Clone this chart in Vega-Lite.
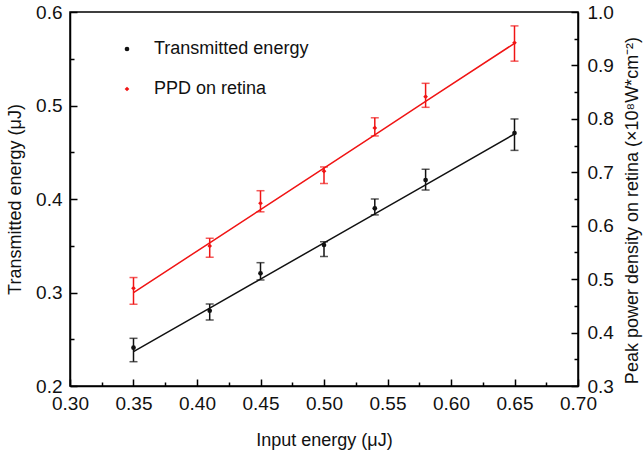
{
  "$schema": "https://vega.github.io/schema/vega-lite/v6.json",
  "width": 508,
  "height": 374,
  "autosize": {"type": "none"},
  "padding": {"left": 70, "top": 12, "right": 66, "bottom": 66},
  "background": "white",
  "config": {
    "font": "Liberation Sans",
    "view": {"stroke": "#000", "strokeWidth": 1.5},
    "axis": {
      "domainColor": "#000", "domainWidth": 1.5,
      "tickColor": "#000", "tickWidth": 1.5,
      "labelColor": "#111", "titleColor": "#111",
      "labelFontSize": 19, "titleFontSize": 18, "titleFontWeight": "normal",
      "grid": false
    },
    "legend": {
      "orient": "none", "legendX": 48, "legendY": 28,
      "labelFontSize": 18, "labelColor": "#111",
      "symbolSize": 22, "rowPadding": 22, "labelOffset": 18,
      "title": null
    }
  },
  "data": {"values": [
    {"x": 0.35, "te": 0.241, "te_lo": 0.226, "te_hi": 0.251, "te_fit": 0.2367, "ppd": 0.483, "ppd_lo": 0.453, "ppd_hi": 0.503, "ppd_fit": 0.4746},
    {"x": 0.41, "te": 0.2805, "te_lo": 0.2706, "te_hi": 0.2877, "te_fit": 0.2833, "ppd": 0.562, "ppd_lo": 0.541, "ppd_hi": 0.5765, "ppd_fit": 0.568},
    {"x": 0.45, "te": 0.3205, "te_lo": 0.3134, "te_hi": 0.3319, "te_fit": 0.3143, "ppd": 0.642, "ppd_lo": 0.626, "ppd_hi": 0.6655, "ppd_fit": 0.6302},
    {"x": 0.50, "te": 0.3508, "te_lo": 0.3385, "te_hi": 0.3543, "te_fit": 0.3531, "ppd": 0.702, "ppd_lo": 0.679, "ppd_hi": 0.710, "ppd_fit": 0.708},
    {"x": 0.54, "te": 0.390, "te_lo": 0.383, "te_hi": 0.400, "te_fit": 0.3841, "ppd": 0.783, "ppd_lo": 0.768, "ppd_hi": 0.802, "ppd_fit": 0.7702},
    {"x": 0.58, "te": 0.4203, "te_lo": 0.4096, "te_hi": 0.4318, "te_fit": 0.4152, "ppd": 0.8415, "ppd_lo": 0.8216, "ppd_hi": 0.8665, "ppd_fit": 0.8325},
    {"x": 0.65, "te": 0.4706, "te_lo": 0.452, "te_hi": 0.4856, "te_fit": 0.4695, "ppd": 0.9425, "ppd_lo": 0.908, "ppd_hi": 0.974, "ppd_fit": 0.9414}
  ]},
  "encoding": {
    "x": {
      "field": "x", "type": "quantitative",
      "scale": {"domain": [0.3, 0.7], "nice": false, "zero": false},
      "axis": {
        "title": "Input energy (μJ)",
        "values": [0.3, 0.325, 0.35, 0.375, 0.4, 0.425, 0.45, 0.475, 0.5, 0.525, 0.55, 0.575, 0.6, 0.625, 0.65, 0.675, 0.7],
        "labelExpr": "round(datum.value*1000) % 50 === 0 ? format(datum.value, '.2f') : ''",
        "tickSize": {"condition": {"test": "round(datum.value*1000) % 50 === 0", "value": -7}, "value": -4},
        "labelPadding": 15, "titlePadding": 15, "labelFlush": false, "labelOverlap": false
      }
    }
  },
  "layer": [
    {
      "encoding": {
        "y": {"type": "quantitative",
          "scale": {"domain": [0.2, 0.6], "nice": false, "zero": false},
          "axis": {
            "title": "Transmitted energy (μJ)", "orient": "left",
            "values": [0.2, 0.25, 0.3, 0.35, 0.4, 0.45, 0.5, 0.55, 0.6],
            "labelExpr": "round(datum.value*100) % 10 === 0 ? format(datum.value, '.1f') : ''",
            "tickSize": {"condition": {"test": "round(datum.value*100) % 10 === 0", "value": -7}, "value": -4},
            "labelPadding": 15, "titlePadding": 11, "labelFlush": false, "labelOverlap": false
          }
        }
      },
      "layer": [
        {"mark": {"type": "line", "color": "#111", "strokeWidth": 1.5}, "encoding": {"y": {"field": "te_fit"}}},
        {"mark": {"type": "rule", "color": "#111", "strokeWidth": 1.5}, "encoding": {"y": {"field": "te_lo"}, "y2": {"field": "te_hi"}}},
        {"mark": {"type": "tick", "orient": "horizontal", "color": "#111", "size": 8, "thickness": 1.5}, "encoding": {"y": {"field": "te_lo"}}},
        {"mark": {"type": "tick", "orient": "horizontal", "color": "#111", "size": 8, "thickness": 1.5}, "encoding": {"y": {"field": "te_hi"}}},
        {"mark": {"type": "point", "filled": true, "opacity": 1, "size": 22}, "encoding": {
          "y": {"field": "te"},
          "color": {"datum": "Transmitted energy", "type": "nominal", "scale": {"domain": ["Transmitted energy", "PPD on retina"], "range": ["#111111", "#f01414"]}},
          "shape": {"datum": "Transmitted energy", "type": "nominal", "scale": {"domain": ["Transmitted energy", "PPD on retina"], "range": ["circle", "diamond"]}}
        }}
      ]
    },
    {
      "encoding": {
        "y": {"type": "quantitative",
          "scale": {"domain": [0.3, 1.0], "nice": false, "zero": false},
          "axis": {
            "title": "Peak power density on retina (×10⁸W*cm⁻²)", "orient": "right",
            "titleAngle": 270, "titleBaseline": "top", "titleY": 198,
            "values": [0.3, 0.35, 0.4, 0.45, 0.5, 0.55, 0.6, 0.65, 0.7, 0.75, 0.8, 0.85, 0.9, 0.95, 1.0],
            "labelExpr": "round(datum.value*100) % 10 === 0 ? format(datum.value, '.1f') : ''",
            "tickSize": {"condition": {"test": "round(datum.value*100) % 10 === 0", "value": -7}, "value": -4},
            "labelPadding": 16, "titlePadding": 10, "labelFlush": false, "labelOverlap": false
          }
        }
      },
      "layer": [
        {"mark": {"type": "line", "color": "#f01414", "strokeWidth": 1.5}, "encoding": {"y": {"field": "ppd_fit"}}},
        {"mark": {"type": "rule", "color": "#f01414", "strokeWidth": 1.5}, "encoding": {"y": {"field": "ppd_lo"}, "y2": {"field": "ppd_hi"}}},
        {"mark": {"type": "tick", "orient": "horizontal", "color": "#f01414", "size": 8, "thickness": 1.5}, "encoding": {"y": {"field": "ppd_lo"}}},
        {"mark": {"type": "tick", "orient": "horizontal", "color": "#f01414", "size": 8, "thickness": 1.5}, "encoding": {"y": {"field": "ppd_hi"}}},
        {"mark": {"type": "point", "filled": true, "opacity": 1, "size": 22}, "encoding": {
          "y": {"field": "ppd"},
          "color": {"datum": "PPD on retina", "type": "nominal"},
          "shape": {"datum": "PPD on retina", "type": "nominal"}
        }}
      ]
    }
  ],
  "resolve": {"scale": {"y": "independent"}}
}
